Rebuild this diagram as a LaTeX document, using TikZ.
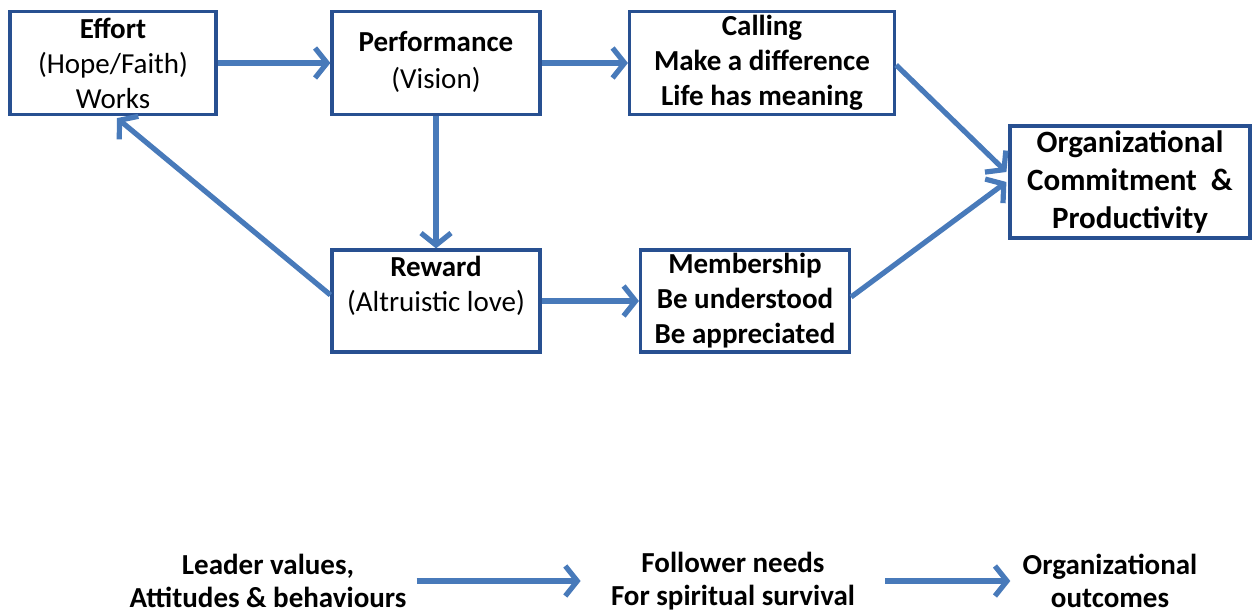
\documentclass[tikz,border=0pt]{standalone}
\usepackage{fontspec}
\setmainfont{Carlito}
\usetikzlibrary{arrows.meta}
\definecolor{boxblue}{RGB}{40,80,145}
\definecolor{arrowblue}{RGB}{72,122,186}

\begin{document}
\begin{tikzpicture}[
  x=0.5pt, y=-0.5pt,
  box/.style={draw=boxblue, line width=1.6pt, align=center, inner sep=0pt,
              font=\fontsize{14.5}{17.5}\selectfont},
  flow/.style={draw=arrowblue, line width=2.6pt,
               -{Straight Barb[length=6pt, width=15pt, line width=2.6pt]}},
  caption/.style={align=center, inner sep=0pt,
                  font=\fontsize{14.5}{16.5}\selectfont\bfseries}
]
\useasboundingbox (0,0) rectangle (1253,614);

% top row
\node[box, minimum width=103pt, minimum height=51.5pt] (eff) at (113,63)
  {\textbf{Effort}\\(Hope/Faith)\\Works};
\node[box, minimum width=104pt, minimum height=51.5pt] (perf) at (436,63)
  {\textbf{Performance}\\[1pt](Vision)\\[-14pt]\mbox{}};
\node[box, minimum width=132.5pt, minimum height=51.5pt, font=\fontsize{14.5}{17.5}\selectfont\bfseries] (call) at (762,63)
  {Calling\\Make a difference\\Life has meaning};
\node[box, minimum width=120pt, minimum height=56pt, font=\fontsize{15.5}{19}\selectfont\bfseries] (org) at (1130,182)
  {Organizational\\Commitment~~\&\\Productivity};

% bottom row
\node[box, minimum width=104pt, minimum height=51pt] (rew) at (436,301)
  {\textbf{Reward}\\(Altruistic love)\\[-6pt]\strut};
\node[box, minimum width=104.5pt, minimum height=51pt, font=\fontsize{14.5}{17.5}\selectfont\bfseries] (mem) at (745,301)
  {Membership\\Be understood\\Be appreciated};

\draw[flow] (eff) -- (perf);
\draw[flow] (perf) -- (call);
\draw[flow] (perf) -- (rew);
\draw[flow] (rew) -- (mem);
\draw[flow] ([yshift=3pt]rew.west) -- ([xshift=2pt, yshift=-1pt]eff.south);
\draw[flow] ([yshift=-1pt]call.east) -- ([xshift=-1pt, yshift=5pt]org.west);
\draw[flow] ([yshift=2pt]mem.east) -- ([xshift=-1pt]org.west);

% legend
\node[caption] (lead) at (268,581) {Leader values,\\Attitudes \& behaviours};
\node[caption] (foll) at (733,581) {Follower needs\\For spiritual survival};
\node[caption] (out) at (1110,581) {Organizational\\outcomes};

\draw[flow, shorten <=5pt, shorten >=15pt] (lead) -- (foll);
\draw[flow, shorten <=15pt, shorten >=6pt] (foll) -- (out);
\end{tikzpicture}
\end{document}
